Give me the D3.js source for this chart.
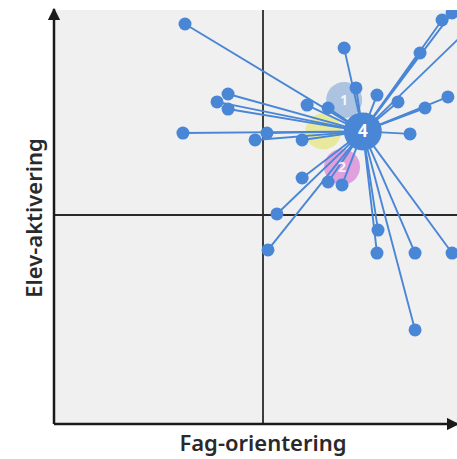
<!DOCTYPE html>
<html><head><meta charset="utf-8">
<script src="https://cdn.jsdelivr.net/npm/d3@7"></script>
<style>html,body{margin:0;padding:0;background:#fff;}svg{display:block;}</style>
</head><body>
<script>
// Data (x = Fag-orientering, y = Elev-aktivering), centred on 0
const hub = {label: "4", x: 4.8, y: 4.0};
const clusters = [
  {label: "1", x: 3.9, y: 5.5, color: "#8fb0da"},
  {label: "", x: 2.9, y: 4.0, color: "#e6e67a"},
  {label: "2", x: 3.8, y: 2.3, color: "#d77fd6"}
];
const pointsX = [-3.75, 3.9, 4.47, 2.12, 3.13, 5.48, 6.49, 8.61, 9.09, 7.55, 10.2, 8.89, 7.79,
                 -2.21, -1.68, -1.68, -3.85, -0.38, 0.19, 1.88, 7.07,
                 1.88, 3.13, 3.8,
                 0.67, 0.24, 5.53, 5.48, 7.31, 9.09, 7.31];
const pointsY = [9.14, 7.99, 6.08, 5.26, 5.12, 5.74, 5.41, 9.33, 9.67, 7.75, 9.2, 5.65, 5.12,
                 5.41, 5.79, 5.07, 3.92, 3.59, 3.92, 3.59, 3.88,
                 1.77, 1.58, 1.44,
                 0.05, -1.67, -0.72, -1.82, -1.82, -1.82, -5.5];
const xLabel = "Fag-orientering";
const yLabel = "Elev-aktivering";

const W = 457, H = 459;
const svg = d3.select("body").append("svg").attr("width", W).attr("height", H);
const x = d3.scaleLinear().domain([-10, 10]).range([55, 471]);
const y = d3.scaleLinear().domain([-10, 10]).range([424, 6]);

const defs = svg.append("defs");
const clip = defs.append("clipPath").attr("id", "clip");
clip.append("rect").attr("x", 55).attr("y", 10).attr("width", W - 55).attr("height", 414);
defs.append("marker").attr("id", "arrow").attr("viewBox", "0 0 10 10")
  .attr("refX", 9).attr("refY", 5).attr("markerWidth", 5).attr("markerHeight", 5)
  .attr("orient", "auto-start-reverse").attr("markerUnits", "strokeWidth")
  .append("path").attr("d", "M0,0 L10,5 L0,10 z").attr("fill", "#1a1a1a");

// background
svg.append("rect").attr("x", 55).attr("y", 10).attr("width", W - 55).attr("height", 414).attr("fill", "#f0f0f0");

// quadrant lines
svg.append("line").attr("x1", x(0)).attr("x2", x(0)).attr("y1", 10).attr("y2", 424)
  .attr("stroke", "#2a2a2a").attr("stroke-width", 1.8);
svg.append("line").attr("x1", 55).attr("x2", W).attr("y1", y(0)).attr("y2", y(0))
  .attr("stroke", "#2a2a2a").attr("stroke-width", 1.8);

const g = svg.append("g").attr("clip-path", "url(#clip)");
const pts = pointsX.map((v, i) => ({x: v, y: pointsY[i]}));

// clusters (behind)
g.selectAll("circle.cl").data(clusters).join("circle")
  .attr("cx", d => x(d.x)).attr("cy", d => y(d.y)).attr("r", 18)
  .attr("fill", d => d.color).attr("opacity", 0.7);

// lines
g.selectAll("line.l").data(pts).join("line")
  .attr("x1", x(hub.x)).attr("y1", y(hub.y))
  .attr("x2", d => x(d.x)).attr("y2", d => y(d.y))
  .attr("stroke", "#4a86d6").attr("stroke-width", 1.9);

// dots
g.selectAll("circle.p").data(pts).join("circle")
  .attr("cx", d => x(d.x)).attr("cy", d => y(d.y)).attr("r", 6.5)
  .attr("fill", "#4a86d6");

// cluster labels
g.selectAll("text.cl").data(clusters.filter(d => d.label)).join("text")
  .attr("x", d => x(d.x)).attr("y", d => y(d.y) + 5)
  .attr("text-anchor", "middle").attr("fill", "#fff").attr("opacity", 0.85)
  .attr("font-family", "'Noto Sans', sans-serif").attr("font-weight", 700).attr("font-size", 14)
  .text(d => d.label);

// hub
g.append("circle").attr("cx", x(hub.x)).attr("cy", y(hub.y)).attr("r", 19).attr("fill", "#4a86d6");
g.append("text").attr("x", x(hub.x)).attr("y", y(hub.y) + 6).attr("text-anchor", "middle")
  .attr("fill", "#fff").attr("font-family", "'Noto Sans', sans-serif").attr("font-weight", 700)
  .attr("font-size", 17).text(hub.label);

// axes
svg.append("line").attr("x1", 54).attr("y1", 424).attr("x2", 54).attr("y2", 9)
  .attr("stroke", "#1a1a1a").attr("stroke-width", 2.5).attr("marker-end", "url(#arrow)");
svg.append("line").attr("x1", 54).attr("y1", 424).attr("x2", 458).attr("y2", 424)
  .attr("stroke", "#1a1a1a").attr("stroke-width", 2.5).attr("marker-end", "url(#arrow)");

// axis labels
svg.append("text").attr("x", 263).attr("y", 451).attr("text-anchor", "middle")
  .attr("font-family", "'Noto Sans', sans-serif").attr("font-weight", 600).attr("font-size", 22)
  .attr("fill", "#2a2a2a").text(xLabel);
svg.append("text").attr("transform", "translate(42,218) rotate(-90)").attr("text-anchor", "middle")
  .attr("font-family", "'Noto Sans', sans-serif").attr("font-weight", 600).attr("font-size", 22)
  .attr("fill", "#2a2a2a").text(yLabel);
</script>
</body></html>
